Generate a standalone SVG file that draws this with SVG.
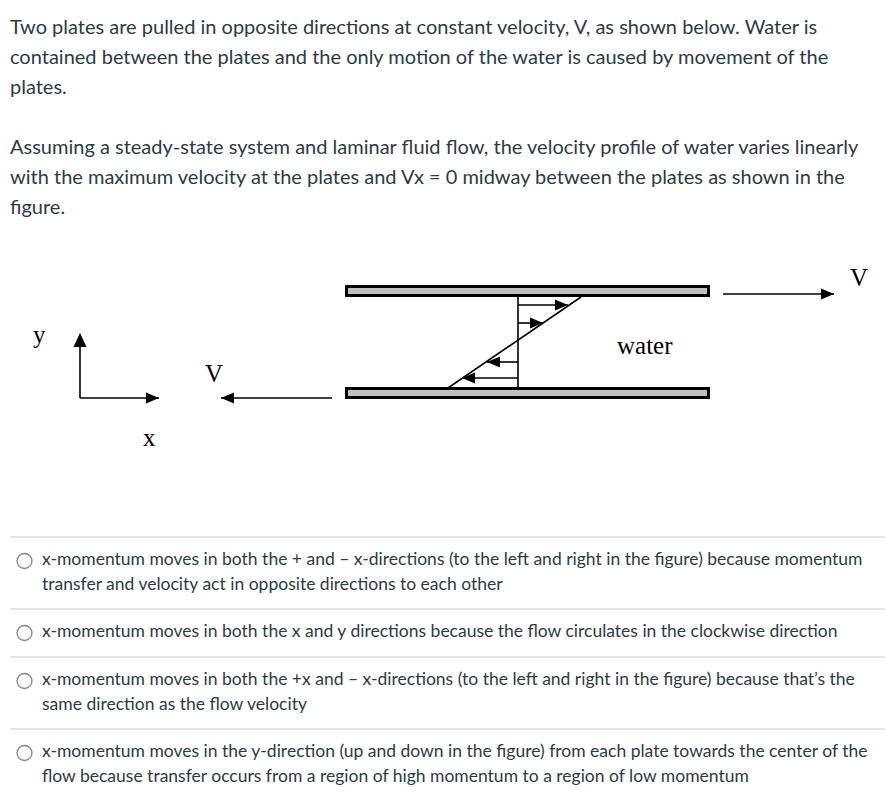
<svg xmlns="http://www.w3.org/2000/svg" width="885" height="793" viewBox="0 0 885 793">
<style>
.t{font-family:Lato,"Liberation Sans",sans-serif;font-size:20px;fill:#2d3b45}
.o{font-family:Lato,"Liberation Sans",sans-serif;font-size:17.5px;fill:#2d3b45}
.f{font-family:"Liberation Serif",serif;font-size:25px;fill:#000}
.ln{stroke:#000;stroke-width:1.6;fill:none}
.plate{fill:#bfbfbf;stroke:#000;stroke-width:3}
.sep{stroke:#dcdcdc;stroke-width:1.3}
.radio{fill:#fff;stroke:#888;stroke-width:1.3}
</style>
<defs>
<marker id="ahL" viewBox="0 0 13 12" refX="13" refY="6" markerWidth="13" markerHeight="12" markerUnits="userSpaceOnUse" orient="auto"><path d="M0,0.5 L13,6 L0,11.5 Z" fill="#000"/></marker>
</defs>
<rect width="885" height="793" fill="#fff"/>
<g id="intro">
<text class="t" x="10" y="34">Two plates are pulled in opposite directions at constant velocity, V, as shown below. Water is</text>
<text class="t" x="10" y="64">contained between the plates and the only motion of the water is caused by movement of the</text>
<text class="t" x="10" y="94">plates.</text>
<text class="t" x="10" y="154">Assuming a steady-state system and laminar fluid flow, the velocity profile of water varies linearly</text>
<text class="t" x="10" y="184">with the maximum velocity at the plates and Vx = 0 midway between the plates as shown in the</text>
<text class="t" x="10" y="214">figure.</text>
</g>
<g id="figure">
<g id="top-plate"><rect class="plate" x="346.5" y="286.5" width="362" height="9"/></g>
<g id="bottom-plate"><rect class="plate" x="346.5" y="388.5" width="362" height="9"/></g>
<g id="axes">
<text class="f" x="33" y="343">y</text>
<text class="f" x="143" y="446">x</text>
</g>
<g id="labels">
<text class="f" x="617" y="354">water</text>
<text class="f" x="850" y="286">V</text>
<text class="f" x="205" y="382">V</text>
</g>
<g id="connectors">
<line class="ln" x1="80" y1="398" x2="80" y2="334"/>
<path d="M80,333 L86.5,347 L73.5,347 Z" fill="#000"/>
<line class="ln" x1="80" y1="398" x2="159" y2="398" marker-end="url(#ahL)"/>
<line class="ln" x1="332" y1="398" x2="221" y2="398" marker-end="url(#ahL)"/>
<line class="ln" x1="723" y1="294" x2="834" y2="294" marker-end="url(#ahL)"/>
<line class="ln" x1="518" y1="297" x2="518" y2="388"/>
<line class="ln" x1="448" y1="388" x2="581" y2="297"/>
<line class="ln" x1="518" y1="305" x2="568" y2="305" marker-end="url(#ahL)"/>
<line class="ln" x1="518" y1="323" x2="543" y2="323" marker-end="url(#ahL)"/>
<line class="ln" x1="518" y1="362" x2="487" y2="362" marker-end="url(#ahL)"/>
<line class="ln" x1="518" y1="378" x2="462" y2="378" marker-end="url(#ahL)"/>
</g>
</g>
<g id="options">
<line class="sep" x1="10" y1="537" x2="885" y2="537"/>
<line class="sep" x1="10" y1="609" x2="885" y2="609"/>
<line class="sep" x1="10" y1="657" x2="885" y2="657"/>
<line class="sep" x1="10" y1="729" x2="885" y2="729"/>
<g id="opt1">
<circle class="radio" cx="24.5" cy="561" r="7.5"/>
<text class="o" x="42" y="565">x-momentum moves in both the + and – x-directions (to the left and right in the figure) because momentum</text>
<text class="o" x="42" y="590">transfer and velocity act in opposite directions to each other</text>
</g>
<g id="opt2">
<circle class="radio" cx="24.5" cy="633" r="7.5"/>
<text class="o" x="42" y="637">x-momentum moves in both the x and y directions because the flow circulates in the clockwise direction</text>
</g>
<g id="opt3">
<circle class="radio" cx="24.5" cy="681" r="7.5"/>
<text class="o" x="42" y="685">x-momentum moves in both the +x and – x-directions (to the left and right in the figure) because that’s the</text>
<text class="o" x="42" y="710">same direction as the flow velocity</text>
</g>
<g id="opt4">
<circle class="radio" cx="24.5" cy="753" r="7.5"/>
<text class="o" x="42" y="757">x-momentum moves in the y-direction (up and down in the figure) from each plate towards the center of the</text>
<text class="o" x="42" y="782">flow because transfer occurs from a region of high momentum to a region of low momentum</text>
</g>
</g>
</svg>
